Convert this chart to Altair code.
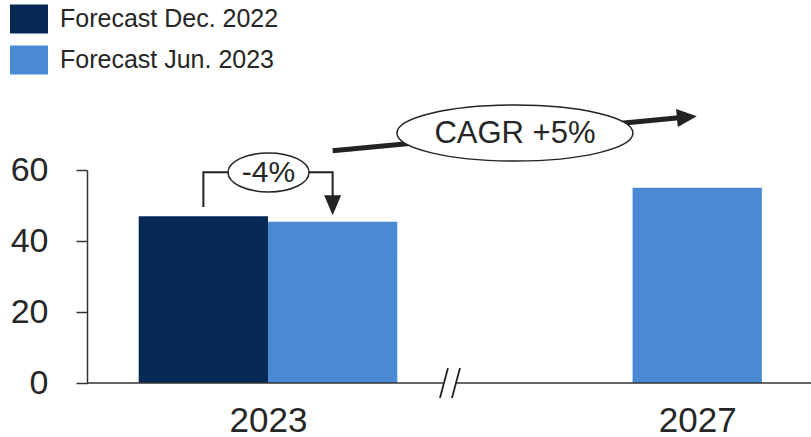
import altair as alt
import pandas as pd

# ---- data ----
series = ["Forecast Dec. 2022", "Forecast Jun. 2023", "Forecast Jun. 2023"]
years = ["2023", "2023", "2027"]
values = [47.0, 45.4, 55.0]
bar_start = [0.4, 1.4, 4.22]
bar_end = [1.4, 2.4, 5.22]
series_order = ["Forecast Dec. 2022", "Forecast Jun. 2023"]
colors = ["#062a55", "#4a89d3"]
year_labels = ["2023", "2027"]
year_pos = [1.4, 4.72]
y_ticks = [0, 20, 40, 60]

change_label = "-4%"
cagr_label = "CAGR +5%"

# annotation geometry (data units)
bracket_x = [0.9, 0.9, 1.9, 1.9]
bracket_y = [49.6, 59.4, 59.4, 50.1]
change_pos = (1.404, 59.3)
cagr_line_x = [1.90, 4.64]
cagr_line_y = [65.4, 74.9]
cagr_pos = (3.31, 70.4)
axis_segments = [(0.0, 2.76), (2.855, 5.6)]
slashes = [(2.730, -4.2, 2.792, 4.2), (2.823, -4.2, 2.885, 4.2)]

XD = [0, 5.6]
YD = [0, 60]
FONT = "Liberation Sans"
INK = "#222222"
TXT = "#262626"

mid = (year_pos[0] + year_pos[1]) / 2
X_AXIS = alt.Axis(
    values=year_pos,
    labelExpr=f"datum.value < {mid} ? '{year_labels[0]}' : '{year_labels[1]}'",
    domain=False, ticks=False, grid=False, labelFontSize=35, labelPadding=20,
    labelFont=FONT, labelColor=TXT, labelFlush=False, labelOverlap=False, title=None)
Y_AXIS = alt.Axis(
    values=y_ticks, grid=False, domainColor="#333333", tickColor="#333333",
    domainWidth=1.5, tickWidth=1.5, tickSize=11, labelFontSize=34, labelPadding=28,
    labelFont=FONT, labelColor=TXT, title=None)


def X(field):
    return alt.X(field, scale=alt.Scale(domain=XD, nice=False, zero=False), axis=X_AXIS)


def Y(field=None, datum=None):
    sc = alt.Scale(domain=YD, nice=False, zero=False)
    if datum is not None:
        return alt.Y(datum=datum, scale=sc, axis=Y_AXIS)
    return alt.Y(field, scale=sc, axis=Y_AXIS)


def ellipse(r):
    k = 0.5523
    return (f"M -1 0 C -1 {-k*r:.4f} {-k} {-r:.4f} 0 {-r:.4f} "
            f"C {k} {-r:.4f} 1 {-k*r:.4f} 1 0 "
            f"C 1 {k*r:.4f} {k} {r:.4f} 0 {r:.4f} "
            f"C {-k} {r:.4f} -1 {k*r:.4f} -1 0 Z")


bars_df = pd.DataFrame({"series": series, "year": years, "value": values,
                        "x0": bar_start, "x1": bar_end})

bars = alt.Chart(bars_df).mark_bar(clip=False).encode(
    x=X("x0:Q"),
    x2="x1:Q",
    y=Y("value:Q"),
    y2=alt.Y2(datum=0),
    color=alt.Color("series:N", scale=alt.Scale(domain=series_order, range=colors),
                    legend=alt.Legend(orient="none", legendX=-77, legendY=-170, title=None,
                                      symbolType="M -1 -0.76 H 1 V 0.76 H -1 Z",
                                      symbolSize=1444, symbolStrokeWidth=0, symbolOpacity=1,
                                      labelFontSize=25, labelFont=FONT, labelColor=TXT,
                                      labelLimit=0, labelOffset=12, rowPadding=7, padding=0)),
)

axis_df = pd.DataFrame({"a": [s[0] for s in axis_segments], "b": [s[1] for s in axis_segments]})
axis_line = alt.Chart(axis_df).mark_rule(color="#333333", strokeWidth=1.5, clip=False).encode(
    x=X("a:Q"), x2="b:Q", y=Y(datum=0))

sl_df = pd.DataFrame({"x1": [s[0] for s in slashes], "y1": [s[1] for s in slashes],
                      "x2": [s[2] for s in slashes], "y2": [s[3] for s in slashes]})
slash_marks = alt.Chart(sl_df).mark_rule(color=INK, strokeWidth=1.8, clip=False).encode(
    x=X("x1:Q"), x2="x2:Q", y=Y("y1:Q"), y2="y2:Q")

br_df = pd.DataFrame({"x": bracket_x, "y": bracket_y, "o": list(range(len(bracket_x)))})
bracket = alt.Chart(br_df).mark_line(color=INK, strokeWidth=2, clip=False).encode(
    x=X("x:Q"), y=Y("y:Q"), order="o:Q")

br_head = alt.Chart(pd.DataFrame({"x": [bracket_x[-1]], "y": [bracket_y[-1]]})).mark_point(
    shape="M -0.85 -1 L 0.85 -1 L 0 1 Z", size=400, filled=True, fill=INK, opacity=1,
    strokeWidth=0, clip=False).encode(x=X("x:Q"), y=Y("y:Q"))

cg_df = pd.DataFrame({"x": cagr_line_x, "y": cagr_line_y, "o": [0, 1]})
cagr_line = alt.Chart(cg_df).mark_line(color=INK, strokeWidth=5, clip=False).encode(
    x=X("x:Q"), y=Y("y:Q"), order="o:Q")

cagr_head = alt.Chart(pd.DataFrame({"x": [cagr_line_x[-1]], "y": [cagr_line_y[-1]]})).mark_point(
    shape="M -1 -0.9 L 1 0 L -1 0.9 Z", size=400, angle=354.5, filled=True, fill=INK,
    opacity=1, strokeWidth=0, clip=False).encode(x=X("x:Q"), y=Y("y:Q"))

ell_df = pd.DataFrame({"x": [change_pos[0]], "y": [change_pos[1]]})
ell_small = alt.Chart(ell_df).mark_point(
    shape=ellipse(39 / 81), size=81 * 81, fill="white", stroke=INK, strokeWidth=1.5,
    fillOpacity=1, strokeOpacity=1, clip=False).encode(x=X("x:Q"), y=Y("y:Q"))
txt_small = alt.Chart(ell_df.assign(t=[change_label])).mark_text(
    font=FONT, fontSize=30, color=TXT, baseline="middle", align="center", dy=1, clip=False).encode(
    x=X("x:Q"), y=Y("y:Q"), text="t:N")

ell2_df = pd.DataFrame({"x": [cagr_pos[0]], "y": [cagr_pos[1]]})
ell_big = alt.Chart(ell2_df).mark_point(
    shape=ellipse(56 / 236), size=236 * 236, fill="white", stroke=INK, strokeWidth=1.5,
    fillOpacity=1, strokeOpacity=1, clip=False).encode(x=X("x:Q"), y=Y("y:Q"))
txt_big = alt.Chart(ell2_df.assign(t=[cagr_label])).mark_text(
    font=FONT, fontSize=31, color=TXT, baseline="middle", align="center", dy=1, clip=False).encode(
    x=X("x:Q"), y=Y("y:Q"), text="t:N")

chart = alt.layer(
    bars, axis_line, slash_marks, bracket, br_head, cagr_line, cagr_head,
    ell_small, txt_small, ell_big, txt_big
).properties(
    width=724, height=213,
    autosize=alt.AutoSizeParams(type="none"),
    padding={"left": 87, "top": 170, "right": 0, "bottom": 54},
    background="white",
).configure_view(stroke=None)

chart.save("out.html", embed_options={"renderer": "svg", "actions": False})
